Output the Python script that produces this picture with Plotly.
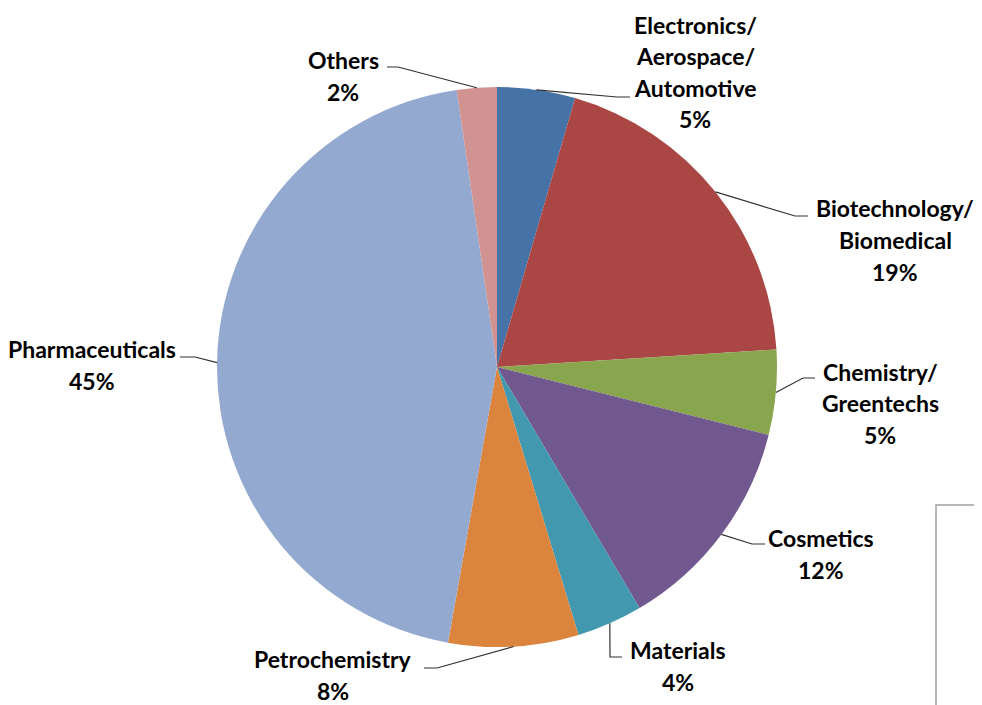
import math
import plotly.graph_objects as go

# ---- data ----
sectors = ["Electronics/Aerospace/Automotive", "Biotechnology/Biomedical",
           "Chemistry/Greentechs", "Cosmetics", "Materials", "Petrochemistry",
           "Pharmaceuticals", "Others"]
label_lines = [["Electronics/", "Aerospace/", "Automotive"],
               ["Biotechnology/", "Biomedical"],
               ["Chemistry/", "Greentechs"],
               ["Cosmetics"], ["Materials"], ["Petrochemistry"],
               ["Pharmaceuticals"], ["Others"]]
shares = [4.5, 19.5, 4.9, 12.6, 3.8, 7.5, 44.9, 2.3]
pct_labels = ["5%", "19%", "5%", "12%", "4%", "8%", "45%", "2%"]
colors = ["#4572A7", "#AA4643", "#89A54E", "#71588F", "#4198AF",
          "#DB843D", "#93A9CF", "#D19392"]

# ---- layout / style (pixels in the 982x705 window) ----
OFF = 8                      # page body margin
W, H = 982 - OFF, 705 - OFF  # figure size
CX, CY, R = 497, 367, 280
# text block centre (px) and leader elbow / end (px)
text_pos = [(695, 72), (895, 240), (880, 403), (821, 554), (678, 666),
            (333, 675), (92, 365), (343, 76)]
elbows = [((617, 97), (630, 97)), ((795, 216), (808, 216)),
          ((803, 378), (815, 378)), ((752, 544), (765, 544)),
          ((610, 657), (622, 657)), ((437, 668), (424, 668)),
          ((195, 357), (180, 357)), ((398, 67), (387, 67))]
LINE_GAP = 31.5
FONT = dict(family="Lato", size=23, color="#000000")


def px(x):
    return (x - OFF) / W


def py(y):
    return 1 - (y - OFF) / H


fig = go.Figure(go.Pie(
    labels=sectors, values=shares, sort=False, direction="clockwise",
    rotation=0, textinfo="none", hoverinfo="label+percent",
    marker=dict(colors=colors, line=dict(width=0)),
    domain=dict(x=[px(CX - R), px(CX + R)], y=[py(CY + R), py(CY - R)]),
    showlegend=False,
))

annotations = []
shapes = []
total = sum(shares)
cum = 0.0
for i, v in enumerate(shares):
    theta = 2 * math.pi * (cum + v / 2) / total
    cum += v
    rx = CX + R * math.sin(theta)
    ry = CY - R * math.cos(theta)
    (ex, ey), (tx, ty) = elbows[i]
    shapes.append(dict(type="path", xref="paper", yref="paper",
                       path=f"M {px(rx)} {py(ry)} L {px(ex)} {py(ey)} L {px(tx)} {py(ty)}",
                       line=dict(color="#303030", width=1.2)))
    lines = label_lines[i] + [pct_labels[i]]
    n = len(lines)
    bx, by = text_pos[i]
    for j, t in enumerate(lines):
        yy = by + (j - (n - 1) / 2) * LINE_GAP
        annotations.append(dict(x=px(bx), y=py(yy), xref="paper", yref="paper",
                                text=f"<b>{t}</b>", showarrow=False,
                                xanchor="center", yanchor="middle", font=FONT))

# partial frame at bottom right
shapes.append(dict(type="path", xref="paper", yref="paper",
                   path=f"M {px(982)} {py(505)} L {px(936)} {py(505)} L {px(936)} {py(705)}",
                   line=dict(color="#A0A0A0", width=1.5)))

fig.update_layout(width=W, height=H, margin=dict(l=0, r=0, t=0, b=0),
                  paper_bgcolor="white", plot_bgcolor="white",
                  annotations=annotations, shapes=shapes)
fig.write_html("out.html")
